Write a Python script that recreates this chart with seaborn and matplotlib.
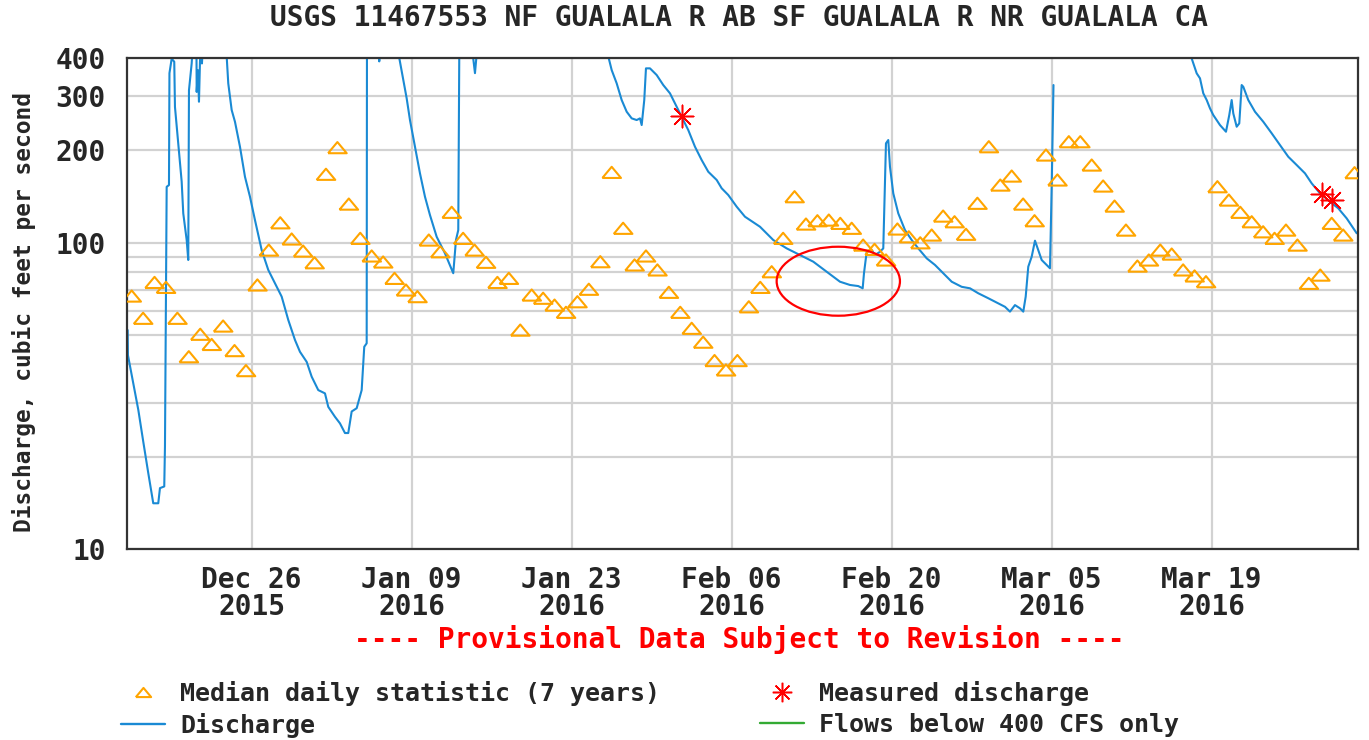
import pandas as pd
import numpy as np
import matplotlib.pyplot as plt
import matplotlib.dates as mdates
from matplotlib.patches import Ellipse
from matplotlib.lines import Line2D
from matplotlib.ticker import FixedLocator, NullFormatter
import seaborn as sns

title = 'USGS 11467553 NF GUALALA R AB SF GUALALA R NR GUALALA CA'
ylabel = 'Discharge, cubic feet per second'
note = '---- Provisional Data Subject to Revision ----'
legend_labels = ['Median daily statistic (7 years)', 'Discharge',
                 'Measured discharge', 'Flows below 400 CFS only']

# median daily statistic, one value per day starting Dec 15 2015
median_start = '2015-12-15 12:00'
median_cfs = [66.9, 56.6, 74.1, 71.4, 56.6, 42.4, 50.2, 46.5, 53.4, 44.4,
              38.2, 72.7, 94.5, 116, 102.7, 93.8, 85.9, 167, 204, 133.5,
              103.2, 90.4, 86.4, 76.4, 70.0, 66.6, 101.9, 93.3, 125.5, 103.2,
              94.5, 86.2, 74.1, 76.4, 51.8, 67.4, 65.8, 62.5, 59.2, 64.1,
              70.4, 86.6, 169.4, 111.3, 84.5, 90.4, 81.4, 68.8, 59.2, 52.5,
              47.3, 41.2, 38.4, 41.2, 61.7, 71.4, 80.3, 103.2, 141.1, 114.9,
              117.8, 118.4, 115.5, 111.3, 98.1, 95.0, 87.7, 110.7, 104.4, 99.8,
              105.8, 122.0, 116.9, 106.4, 134.3, 205.4, 154.0, 164.8, 133.5, 117.8,
              193.0, 160.0, 213.3, 213.3, 179.0, 152.9, 131.5, 109.8, 83.8, 87.7,
              94.5, 91.7, 81.4, 77.8, 74.5, 152.1, 137.6, 125.5, 116.9, 108.4,
              103.2, 109.8, 98.1, 73.6, 78.3, 115.5, 105.8, 169]

# field measurements
meas_time = ['2016-02-01 15:00', '2016-03-28 14:50', '2016-03-29 12:00']
meas_cfs = [259, 144, 138]

# instantaneous discharge (values above 400 run off the top of the plot)
q_time = ['2015-12-15 03:35', '2015-12-15 04:10', '2015-12-15 12:00', '2015-12-16 02:00',
          '2015-12-16 12:20', '2015-12-16 22:50', '2015-12-17 09:20', '2015-12-17 19:50',
          '2015-12-17 23:25', '2015-12-18 08:25', '2015-12-18 09:55', '2015-12-18 13:30',
          '2015-12-18 18:20', '2015-12-18 19:20', '2015-12-19 00:00', '2015-12-19 05:25',
          '2015-12-19 06:55', '2015-12-19 13:50', '2015-12-19 21:00', '2015-12-20 00:20',
          '2015-12-20 07:30', '2015-12-20 10:50', '2015-12-20 12:20', '2015-12-20 18:00',
          '2015-12-20 20:40', '2015-12-21 04:00', '2015-12-21 04:30', '2015-12-21 07:10',
          '2015-12-21 09:20', '2015-12-21 11:25', '2015-12-21 13:30', '2015-12-21 15:35',
          '2015-12-21 17:45', '2015-12-22 18:00', '2015-12-23 19:30', '2015-12-23 22:50',
          '2015-12-24 06:00', '2015-12-24 12:55', '2015-12-24 23:25', '2015-12-25 09:55',
          '2015-12-25 20:25', '2015-12-26 06:55', '2015-12-26 21:00', '2015-12-27 10:50',
          '2015-12-28 04:30', '2015-12-28 15:00', '2015-12-29 04:50', '2015-12-29 18:55',
          '2015-12-30 05:25', '2015-12-30 19:30', '2015-12-31 06:00', '2015-12-31 19:50',
          '2016-01-01 09:55', '2016-01-01 16:50', '2016-01-02 06:55', '2016-01-02 17:25',
          '2016-01-03 03:55', '2016-01-03 10:50', '2016-01-03 18:00', '2016-01-04 04:30',
          '2016-01-04 15:00', '2016-01-04 20:25', '2016-01-05 01:30', '2016-01-05 02:05',
          '2016-01-05 14:00', '2016-01-06 03:00', '2016-01-06 03:55', '2016-01-06 04:50',
          '2016-01-06 12:00', '2016-01-07 21:20', '2016-01-08 06:20', '2016-01-08 13:30',
          '2016-01-08 20:25', '2016-01-09 06:55', '2016-01-09 17:25', '2016-01-10 03:55',
          '2016-01-10 14:25', '2016-01-11 04:30', '2016-01-11 21:55', '2016-01-12 15:20',
          '2016-01-12 21:00', '2016-01-13 01:50', '2016-01-13 03:55', '2016-01-13 20:00',
          '2016-01-14 08:45', '2016-01-14 12:55', '2016-01-14 16:05', '2016-01-20 00:00',
          '2016-01-26 04:50', '2016-01-26 12:00', '2016-01-26 22:30', '2016-01-27 09:00',
          '2016-01-27 19:30', '2016-01-28 06:00', '2016-01-28 16:30', '2016-01-28 23:25',
          '2016-01-29 03:00', '2016-01-29 08:25', '2016-01-29 12:00', '2016-01-29 20:25',
          '2016-01-30 10:30', '2016-01-31 00:20', '2016-01-31 14:25', '2016-02-01 00:55',
          '2016-02-01 15:00', '2016-02-02 04:50', '2016-02-02 18:55', '2016-02-03 09:00',
          '2016-02-03 22:50', '2016-02-04 16:30', '2016-02-05 03:00', '2016-02-05 16:50',
          '2016-02-06 10:30', '2016-02-07 03:55', '2016-02-07 14:25', '2016-02-08 11:25',
          '2016-02-09 15:20', '2016-02-10 19:30', '2016-02-11 23:25', '2016-02-13 03:20',
          '2016-02-14 07:30', '2016-02-15 11:25', '2016-02-16 08:25', '2016-02-17 01:50',
          '2016-02-17 11:05', '2016-02-17 13:50', '2016-02-17 19:30', '2016-02-18 06:00',
          '2016-02-18 12:55', '2016-02-18 23:25', '2016-02-19 06:20', '2016-02-19 12:00',
          '2016-02-19 16:50', '2016-02-19 20:25', '2016-02-20 03:20', '2016-02-20 13:50',
          '2016-02-21 03:55', '2016-02-21 18:00', '2016-02-22 07:50', '2016-02-23 01:30',
          '2016-02-23 18:55', '2016-02-24 12:20', '2016-02-25 06:00', '2016-02-26 03:00',
          '2016-02-26 20:25', '2016-02-27 13:50', '2016-02-28 10:50', '2016-02-29 07:50',
          '2016-02-29 21:55', '2016-03-01 08:25', '2016-03-01 18:55', '2016-03-02 05:25',
          '2016-03-02 12:20', '2016-03-02 17:25', '2016-03-02 22:50', '2016-03-03 06:00',
          '2016-03-03 12:55', '2016-03-03 19:50', '2016-03-04 03:00', '2016-03-04 13:30',
          '2016-03-04 20:25', '2016-03-04 23:58', '2016-03-05 03:46',
          '2016-03-17 04:30', '2016-03-17 16:30', '2016-03-17 23:25', '2016-03-18 06:20',
          '2016-03-18 13:30', '2016-03-18 20:25', '2016-03-19 03:20', '2016-03-19 17:25',
          '2016-03-20 06:00', '2016-03-20 12:55', '2016-03-20 17:58', '2016-03-20 21:20',
          '2016-03-21 04:30', '2016-03-21 09:55', '2016-03-21 14:58', '2016-03-21 18:20',
          '2016-03-22 04:50', '2016-03-22 18:55', '2016-03-23 12:20', '2016-03-24 06:00',
          '2016-03-24 23:25', '2016-03-25 16:50', '2016-03-26 10:30', '2016-03-27 03:55',
          '2016-03-27 18:00', '2016-03-28 11:25', '2016-03-29 08:25', '2016-03-30 01:50',
          '2016-03-30 19:30', '2016-03-31 16:30']
q_cfs = [51.8, 42.9, 37.0, 28.4,
         22.4, 17.7, 14.1, 14.1,
         15.8, 16.0, 21.6, 152,
         154, 357, 398, 389,
         277, 211, 158, 124.5,
         101.9, 87.7, 314, 384,
         450, 450, 310, 365,
         288, 388, 450, 384,
         450, 900, 405, 330.7,
         270.6, 247.8, 205.4, 163.9,
         141.1, 118.4, 94.5, 81.4,
         71.7, 66.6, 55.9, 48.1,
         44.0, 40.8, 36.5, 33.0,
         32.2, 29.1, 27.0, 25.7,
         23.9, 23.9, 28.1, 28.8,
         33.0, 45.7, 46.9, 405,
         800, 405, 390, 405,
         800, 405, 339, 295.4,
         251, 205.4, 168.2, 141.1,
         122.9, 104.4, 92.2, 79.4,
         101.9, 109.8, 405, 900,
         405, 357, 405, 1500,
         405, 365.4, 330.7, 291.7,
         267.2, 254.2, 251, 254.2,
         241.7, 291.7, 370.1, 370.1,
         352, 326.5, 306.8, 284.6,
         257.3, 232.8, 205.4, 185.8,
         170.2, 160, 150.3, 142.9,
         130.9, 121.4, 118.4, 112.6,
         101.9, 95.7, 91.0, 86.6,
         80.3, 74.5, 72.7, 72.1,
         70.9, 79.4, 93.3, 94.5,
         91.0, 93.3, 95.7, 210.7,
         216, 176.7, 144.7, 124.5,
         109.8, 101.9, 95.7, 88.8,
         84.5, 79.4, 74.5, 71.7,
         70.9, 68.3, 65.8, 63.3,
         61.7, 59.5, 62.5, 61.0,
         59.5, 66.6, 83.4, 89.9,
         101.4, 94.5, 87.7, 84.5,
         82.4, 152, 326.5,
         405, 356.5, 343.4, 306.8,
         291.7, 274.1, 260.6, 241.7,
         229.9, 260.6, 291.7, 263.9,
         238.7, 244.8, 326.5, 322.3,
         291.7, 267.2, 247.8, 227.2,
         208, 190.5, 179, 168.2,
         156, 144.7, 135.9, 129.3,
         119.9, 107.2]
record_resumes = '2016-03-17 00:00'   # no record between Mar 5 and Mar 17

tick_dates = ['2015-12-26', '2016-01-09', '2016-01-23', '2016-02-06',
              '2016-02-20', '2016-03-05', '2016-03-19']
ytick_vals = [10, 100, 200, 300, 400]
yminor_vals = [20, 30, 40, 50, 60, 70, 80, 90]

blue = '#1a8ad4'
orange = '#ffa500'
grid_col = '#d2d2d2'

q = pd.DataFrame({'time': pd.to_datetime(q_time), 'cfs': q_cfs})
q['seg'] = (q['time'] > pd.Timestamp(record_resumes)).astype(int)
med = pd.DataFrame({'time': pd.date_range(median_start, periods=len(median_cfs), freq='D'),
                    'cfs': median_cfs})
meas = pd.DataFrame({'time': pd.to_datetime(meas_time), 'cfs': meas_cfs})

sns.set_style('white')
plt.rcParams['font.family'] = ['DejaVu Sans Mono']
plt.rcParams['font.weight'] = 'bold'

fig = plt.figure(figsize=(13.69, 7.4), dpi=100)
ax = fig.add_axes([0.0925, 0.2581, 0.8997, 0.6635])

tri = [(-1, -0.6), (1, -0.6), (0, 0.6), (-1, -0.6)]
star = (8, 2, 0)

sns.lineplot(data=q, x='time', y='cfs', units='seg', estimator=None, sort=False,
             color=blue, lw=1.5, ax=ax, legend=False, zorder=2)
sns.scatterplot(data=med, x='time', y='cfs', marker=tri, s=180, color=orange,
                facecolors='none', edgecolor=orange, linewidth=1.5, ax=ax, zorder=3)
sns.scatterplot(data=meas, x='time', y='cfs', marker=star, s=260, color='#ff0000',
                edgecolor='#ff0000', linewidth=1.1, ax=ax, zorder=4)

ax.set_yscale('log')
ax.set_ylim(10, 400)
ax.set_xlim(pd.Timestamp('2015-12-15 01:25'), pd.Timestamp('2016-03-31 19:55'))
ax.yaxis.set_major_locator(FixedLocator(ytick_vals))
ax.set_yticks(ytick_vals, [str(v) for v in ytick_vals], fontsize=20)
ax.yaxis.set_minor_locator(FixedLocator(yminor_vals))
ax.yaxis.set_minor_formatter(NullFormatter())
ticks = pd.to_datetime(tick_dates)
ax.set_xticks(ticks, [d.strftime('%b %d\n%Y') for d in ticks], fontsize=20, linespacing=0.95)
ax.tick_params(axis='both', which='both', length=0)
ax.tick_params(axis='y', pad=15)
ax.tick_params(axis='x', pad=12)
ax.set_xlabel('')
ax.set_ylabel('')
ax.grid(True, which='both', axis='y', color=grid_col, lw=1.6)
ax.grid(True, which='major', axis='x', color=grid_col, lw=1.6)
ax.set_axisbelow(True)
for sp in ax.spines.values():
    sp.set_color('#333333')
    sp.set_linewidth(1.6)

ax.add_patch(Ellipse((0.5778, 0.5454), 0.1001, 0.1405, transform=ax.transAxes,
                     fill=False, ec='#ff0000', lw=1.6, zorder=5, clip_on=False))

fig.text(0.5398, 1 - 18 / 740, title, ha='center', va='center', fontsize=20)
fig.text(0.0175, 1 - 312 / 740, ylabel, rotation=90, ha='center', va='center', fontsize=16.5)
fig.text(0.5398, 1 - 640 / 740, note, color='#ff0000', ha='center', va='center', fontsize=20)

handles = [Line2D([], [], ls='none', marker=tri, ms=11, mfc='none', mec=orange, mew=1.5),
           Line2D([], [], color=blue, lw=1.7),
           Line2D([], [], ls='none', marker=star, ms=14, mec='#ff0000', mew=1.1),
           Line2D([], [], color='#33aa33', lw=1.7)]
fig.legend(handles, legend_labels, ncol=2, loc='upper left',
           bbox_to_anchor=(121 / 1369, 1 - 681 / 740), frameon=False, fontsize=18,
           handlelength=1.76, handletextpad=0.6, columnspacing=4.0, labelspacing=0.27,
           borderpad=0, borderaxespad=0)

fig.savefig('out.png', dpi=100)
